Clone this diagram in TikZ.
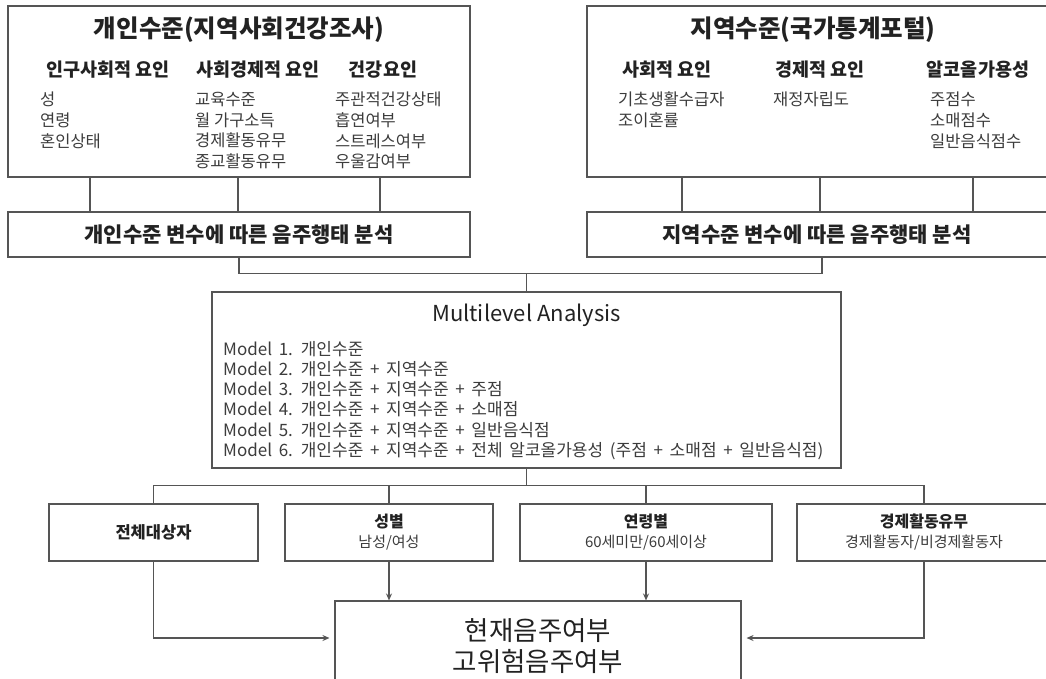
\documentclass[tikz,border=0pt]{standalone}
\usepackage{fontspec}
\setmainfont{Noto Sans CJK KR}
\newfontfamily\modelfont{Noto Sans CJK KR}[WordSpace=1.75]
\usepackage{xcolor}
\usetikzlibrary{positioning,arrows.meta,calc}
\definecolor{linec}{HTML}{555555}
\definecolor{txtc}{HTML}{222222}
\definecolor{itemc}{HTML}{3C3C3C}

\begin{document}
\begin{tikzpicture}[
    x=1pt, y=-1pt,
    box/.style={rectangle, draw=linec, line width=1.1pt, fill=white, inner sep=0pt},
    bigttl/.style={font=\fontsize{24.5}{28}\selectfont\bfseries, text=txtc},
    head/.style={font=\fontsize{18.5}{22}\selectfont\bfseries, text=txtc},
    item/.style={font=\fontsize{16.5}{20.7}\selectfont, align=left, text=itemc, inner sep=0pt},
    ana/.style={font=\fontsize{21}{24}\selectfont\bfseries, text=txtc},
    grp/.style={box, minimum height=57pt, align=center, font=\fontsize{15}{20}\selectfont, text=txtc},
    link/.style={draw=linec, line width=1.1pt},
    arrow/.style={link, -{Stealth[length=7pt,width=6pt]}}
]

\useasboundingbox (0,0) rectangle (1046,678);
\clip (0,0) rectangle (1046,678);
\fill[white] (0,0) rectangle (1046,678);

% Individual level
\node[box, minimum width=462pt, minimum height=171pt] (indiv) at (239,91.5) {};
\node[bigttl] (indivT) at (239,30) {개인수준(지역사회건강조사)};
\node[head] (indivH1) at (108,70) {인구사회적 요인};
\node[head] (indivH2) at (258,70) {사회경제적 요인};
\node[head] (indivH3) at (383,70) {건강요인};
\node[item, anchor=north west] (indivI1) at (40,92) {성\\연령\\혼인상태};
\node[item, anchor=north west] (indivI2) at (195,92) {교육수준\\월 가구소득\\경제활동유무\\종교활동유무};
\node[item, anchor=north west] (indivI3) at (335,92) {주관적건강상태\\흡연여부\\스트레스여부\\우울감여부};

% Regional level
\node[box, minimum width=460pt, minimum height=171pt] (region) at (817,91.5) {};
\node[bigttl] (regionT) at (813,30) {지역수준(국가통계포털)};
\node[head] (regionH1) at (667,70) {사회적 요인};
\node[head] (regionH2) at (820,70) {경제적 요인};
\node[head] (regionH3) at (978,70) {알코올가용성};
\node[item, anchor=north west] (regionI1) at (618,92) {기초생활수급자\\조이혼률};
\node[item, anchor=north west] (regionI2) at (773,92) {재정자립도};
\node[item, anchor=north west] (regionI3) at (930,92) {주점수\\소매점수\\일반음식점수};

% Analysis boxes
\node[box, ana, minimum width=462pt, minimum height=45pt] (indivAna) at (239,234.5) {개인수준 변수에 따른 음주행태 분석};
\node[box, ana, minimum width=460pt, minimum height=45pt] (regionAna) at (817,234.5) {지역수준 변수에 따른 음주행태 분석};

\draw[link] ([xshift=-149pt]indiv.south) -- ([xshift=-149pt]indivAna.north);
\draw[link] ([xshift=-1pt]indiv.south) -- ([xshift=-1pt]indivAna.north);
\draw[link] ([xshift=141pt]indiv.south) -- ([xshift=141pt]indivAna.north);
\draw[link] ([xshift=-135pt]region.south) -- ([xshift=-135pt]regionAna.north);
\draw[link] ([xshift=3pt]region.south) -- ([xshift=3pt]regionAna.north);
\draw[link] ([xshift=156pt]region.south) -- ([xshift=156pt]regionAna.north);

% Multilevel model
\node[box, minimum width=629pt, minimum height=176pt] (multi) at (526.5,380) {};
\node[font=\fontsize{22}{26}\selectfont, text=txtc] (multiT) at (526.5,315) {Multilevel Analysis};
\node[item, anchor=north west, font=\modelfont\fontsize{17}{20.2}\selectfont] (models) at (223,341) {Model 1. 개인수준\\
    Model 2. 개인수준 + 지역수준\\
    Model 3. 개인수준 + 지역수준 + 주점\\
    Model 4. 개인수준 + 지역수준 + 소매점\\
    Model 5. 개인수준 + 지역수준 + 일반음식점\\
    Model 6. 개인수준 + 지역수준 + 전체 알코올가용성 (주점 + 소매점 + 일반음식점)};

\coordinate (merge) at ($(multi.north)+(0,-18)$);
\draw[link] (indivAna.south) |- (merge) -| ([xshift=5pt]regionAna.south);
\draw[link] (merge) -- (multi.north);

% Subgroups
\node[grp, minimum width=209pt] (all) at (153.5,532.5) {\bfseries\fontsize{16.5}{20}\selectfont 전체대상자};
\node[grp, minimum width=208pt] (sex) at (389,532.5) {\textbf{\fontsize{16}{20}\selectfont 성별}\\{\color{itemc}남성/여성}};
\node[grp, minimum width=252pt] (age) at (646,532.5) {\textbf{\fontsize{16}{20}\selectfont 연령별}\\{\color{itemc}60세미만/60세이상}};
\node[grp, minimum width=254pt] (econ) at (924,532.5) {\textbf{\fontsize{16}{20}\selectfont 경제활동유무}\\{\color{itemc}경제활동자/비경제활동자}};

\coordinate (split) at ($(multi.south)+(0,17)$);
\draw[link] (multi.south) -- (split);
\draw[link] (all.north) |- (econ.north |- split) -- (econ.north);
\draw[link] (sex.north) -- (sex.north |- split);
\draw[link] (age.north) -- (age.north |- split);

% Outcome
\node[box, minimum width=406pt, minimum height=90pt, align=center, font=\fontsize{26.5}{31}\selectfont, text=txtc] (res) at (538,646) {현재음주여부\\고위험음주여부};

\coordinate (resL) at ($(res.west)+(-5,-8)$);
\coordinate (resR) at ($(res.east)+(5,-8)$);
\draw[arrow] (all.south) |- (resL);
\draw[arrow] (sex.south) -- (sex.south |- res.north);
\draw[arrow] (age.south) -- (age.south |- res.north);
\draw[arrow] (econ.south) |- (resR);

\end{tikzpicture}
\end{document}
